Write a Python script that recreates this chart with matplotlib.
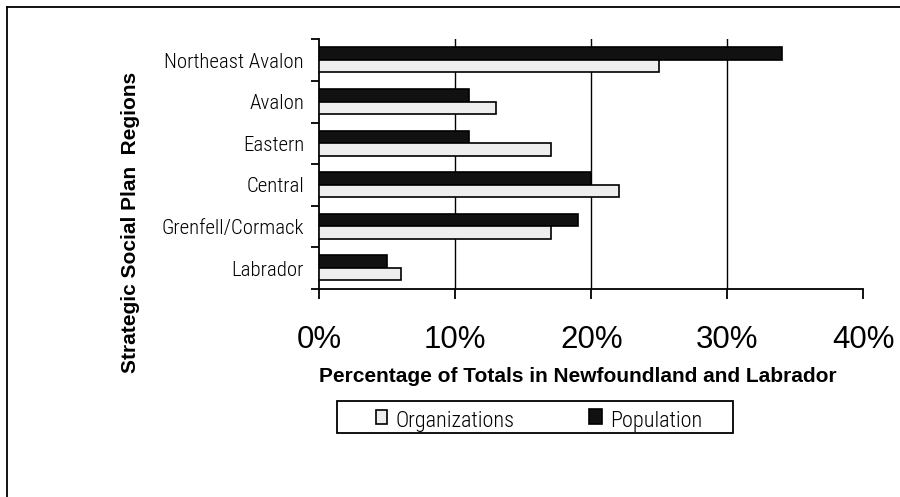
import matplotlib
matplotlib.use("Agg")
import matplotlib.pyplot as plt
import numpy as np
from matplotlib.patches import Rectangle
from matplotlib.lines import Line2D

# data (percent of provincial totals)
regions = ["Northeast Avalon", "Avalon", "Eastern", "Central",
           "Grenfell/Cormack", "Labrador"]
organizations = [25, 13, 17, 22, 17, 6]
population = [34, 11, 11, 20, 19, 5]
xticks = [0, 10, 20, 30, 40]
xtick_labels = ["0%", "10%", "20%", "30%", "40%"]

narrow = ["Roboto Condensed", "DejaVu Sans"]
arial = ["Liberation Sans", "DejaVu Sans"]

W, H = 900, 497
fig = plt.figure(figsize=(W / 100, H / 100), dpi=100)
ax = fig.add_axes([319.3 / W, 1 - 289 / H, 544 / W, 249.7 / H])

n = len(regions)
ypos = np.arange(n)[::-1]  # first region at the top
bh = 0.30
ax.barh(ypos + 0.155, population, height=bh, color="#111111",
        edgecolor="black", linewidth=1.2, zorder=3)
ax.barh(ypos - 0.145, organizations, height=bh, color="#eeeeee",
        edgecolor="black", linewidth=1.2, zorder=3)

ax.set_xlim(0, 40)
ax.set_ylim(-0.5, n - 0.5)

# gridlines
for g in [10, 20, 30]:
    ax.axvline(g, color="black", linewidth=1.0, zorder=1)

ax.spines["top"].set_visible(False)
ax.spines["right"].set_visible(False)
ax.spines["left"].set_linewidth(1.3)
ax.spines["bottom"].set_linewidth(1.3)

ax.set_xticks(xticks)
ax.set_xticklabels(xtick_labels, fontsize=22.5, family=arial)
ax.tick_params(axis="x", length=7, width=1.3, pad=19, direction="out")

ax.set_yticks(ypos)
ax.set_yticklabels(regions, fontsize=15, family=narrow, fontweight="light")
ax.set_yticks(np.arange(-0.5, n, 1.0), minor=True)
ax.tick_params(axis="y", which="major", length=0, pad=11)
ax.tick_params(axis="y", which="minor", length=6, width=1.3, direction="out")

fig.text(130 / W, 1 - 222 / H, "Strategic Social Plan  Regions", rotation=90,
         ha="center", va="center", fontsize=15, fontweight="bold", family=arial)
fig.text(578 / W, 1 - 376 / H, "Percentage of Totals in Newfoundland and Labrador",
         ha="center", va="center", fontsize=15, fontweight="bold", family=arial)

# legend box
fig.add_artist(Rectangle((336.7 / W, 1 - 433 / H), 396.6 / W, 32.3 / H,
                         transform=fig.transFigure, facecolor="white",
                         edgecolor="black", linewidth=1.3))
fig.add_artist(Rectangle((375.5 / W, 1 - 423.5 / H), 11.5 / W, 14 / H,
                         transform=fig.transFigure, facecolor="#eeeeee",
                         edgecolor="black", linewidth=1.2))
fig.text(395.5 / W, 1 - 421 / H, "Organizations", ha="left", va="center",
         fontsize=16, family=narrow, fontweight="light")
fig.add_artist(Rectangle((588.5 / W, 1 - 423.5 / H), 13.5 / W, 15 / H,
                         transform=fig.transFigure, facecolor="#111111",
                         edgecolor="black", linewidth=1.2))
fig.text(610 / W, 1 - 421 / H, "Population", ha="left", va="center",
         fontsize=16, family=narrow, fontweight="light")

# outer frame (top and left edges visible)
fig.add_artist(Line2D([6.5 / W, 1], [1 - 6.5 / H, 1 - 6.5 / H],
                      transform=fig.transFigure, color="black", linewidth=1.3))
fig.add_artist(Line2D([6.5 / W, 6.5 / W], [0, 1 - 6.5 / H],
                      transform=fig.transFigure, color="black", linewidth=1.3))

fig.savefig("out.png", dpi=100)
